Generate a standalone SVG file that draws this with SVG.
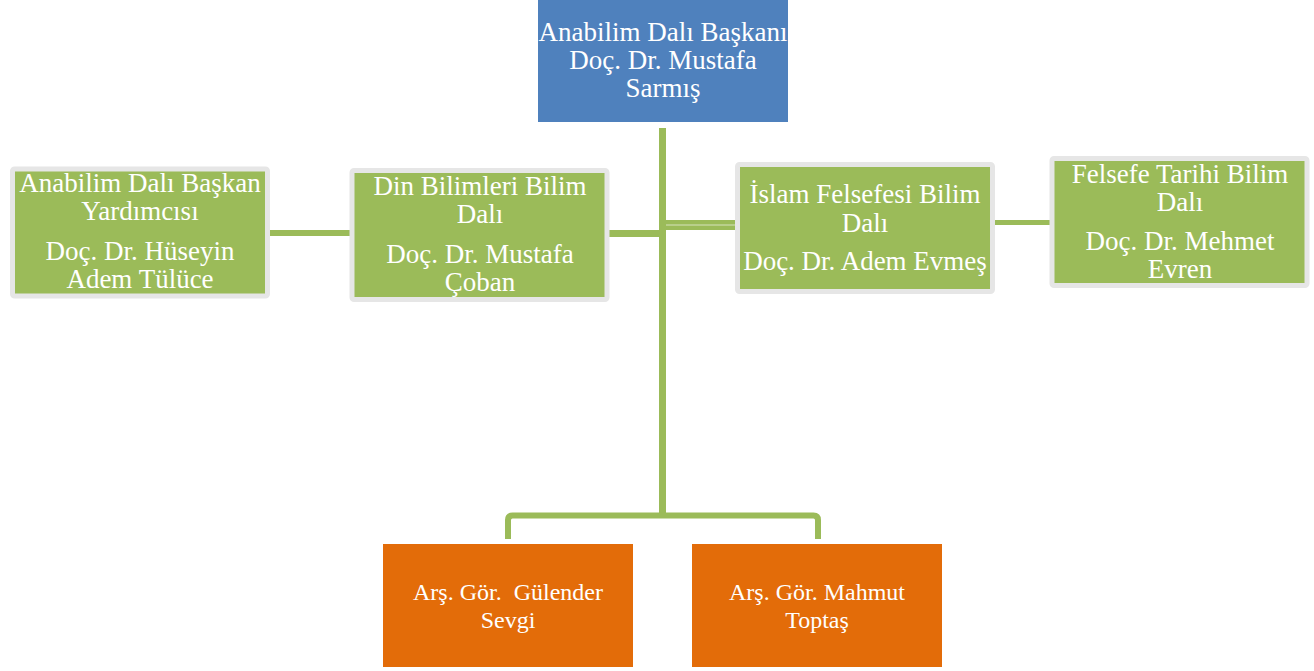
<svg xmlns="http://www.w3.org/2000/svg" width="1314" height="671" viewBox="0 0 1314 671">
<style>
.t{font-family:"Liberation Serif","DejaVu Serif",serif;fill:#ffffff;text-anchor:middle;font-size:27px}
.o{font-size:24px}
.g{fill:#9BBB59;stroke:#E6E6E6;stroke-width:5}
.c{stroke:#9BBB59;fill:none;stroke-linecap:butt}
</style>
<rect width="1314" height="671" fill="#ffffff"/>
<g id="connectors">
<line class="c" x1="662.5" y1="128" x2="662.5" y2="517" stroke-width="7"/>
<line class="c" x1="270" y1="233" x2="350" y2="233" stroke-width="6"/>
<line class="c" x1="608" y1="233.5" x2="662" y2="233.5" stroke-width="7"/>
<rect x="666" y="220" width="69" height="10" fill="#9BBB59"/>
<line x1="666" y1="225" x2="735" y2="225" stroke="#ffffff" stroke-opacity="0.6" stroke-width="1"/>
<line class="c" x1="994" y1="222.5" x2="1051" y2="222.5" stroke-width="5"/>
<path class="c" d="M508,539 V520 Q508,515.5 512.5,515.5 H813.5 Q818,515.5 818,520 V539" stroke-width="6"/>
</g>
<g id="head">
<rect x="538" y="0" width="250" height="122" fill="#4F81BD"/>
<text class="t" x="663" y="41">Anabilim Dalı Başkanı</text>
<text class="t" x="663" y="69">Doç. Dr. Mustafa</text>
<text class="t" x="663" y="97">Sarmış</text>
</g>
<g id="assistant">
<rect class="g" x="12.5" y="169" width="255" height="127" rx="2"/>
<text class="t" x="140" y="192">Anabilim Dalı Başkan</text>
<text class="t" x="140" y="220">Yardımcısı</text>
<text class="t" x="140" y="260">Doç. Dr. Hüseyin</text>
<text class="t" x="140" y="288">Adem Tülüce</text>
</g>
<g id="din">
<rect class="g" x="352" y="170.5" width="255" height="129" rx="2"/>
<text class="t" x="480" y="195">Din Bilimleri Bilim</text>
<text class="t" x="480" y="223">Dalı</text>
<text class="t" x="480" y="263">Doç. Dr. Mustafa</text>
<text class="t" x="480" y="291">Çoban</text>
</g>
<g id="islam">
<rect class="g" x="737.5" y="164.5" width="255" height="127" rx="2"/>
<text class="t" x="865" y="203">İslam Felsefesi Bilim</text>
<text class="t" x="865" y="232">Dalı</text>
<text class="t" x="865" y="270">Doç. Dr. Adem Evmeş</text>
</g>
<g id="felsefe">
<rect class="g" x="1052" y="158.5" width="255" height="127" rx="2"/>
<text class="t" x="1180" y="183">Felsefe Tarihi Bilim</text>
<text class="t" x="1180" y="211">Dalı</text>
<text class="t" x="1180" y="250">Doç. Dr. Mehmet</text>
<text class="t" x="1180" y="278">Evren</text>
</g>
<g id="gulender">
<rect x="383" y="544" width="250" height="123" fill="#E36C09"/>
<text class="t o" x="508" y="600" xml:space="preserve">Arş. Gör.  Gülender</text>
<text class="t o" x="508" y="628">Sevgi</text>
</g>
<g id="mahmut">
<rect x="692" y="544" width="250" height="123" fill="#E36C09"/>
<text class="t o" x="817" y="600">Arş. Gör. Mahmut</text>
<text class="t o" x="817" y="628">Toptaş</text>
</g>
</svg>
